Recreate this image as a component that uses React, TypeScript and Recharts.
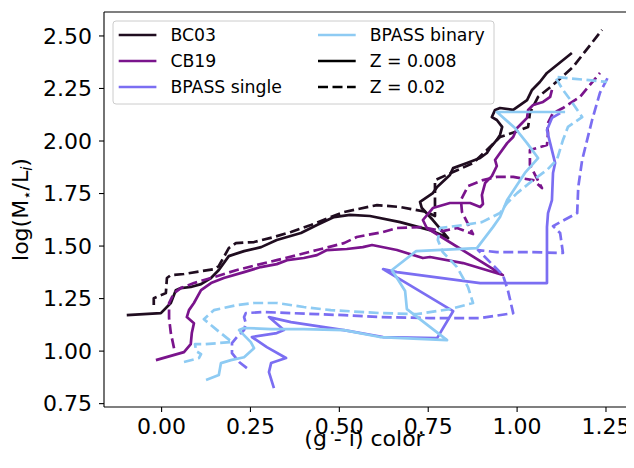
import React from "react";
import { LineChart, Line, XAxis, YAxis, ReferenceLine, Label } from "recharts";

// (g - i) color, log(M*/L_i) pairs
const BC03_Z008: [number, number][] = [
  [-0.098, 1.171], [-0.002, 1.181], [0.026, 1.229], [0.04, 1.29], [0.054, 1.3], [0.082, 1.305],
  [0.111, 1.319], [0.139, 1.348], [0.161, 1.386], [0.189, 1.452], [0.232, 1.476], [0.28, 1.495],
  [0.324, 1.529], [0.392, 1.562], [0.437, 1.6], [0.485, 1.638], [0.53, 1.648], [0.586, 1.643],
  [0.671, 1.614], [0.755, 1.576], [0.806, 1.538], [0.763, 1.624], [0.732, 1.681], [0.727, 1.71],
  [0.763, 1.752], [0.775, 1.781], [0.811, 1.838], [0.82, 1.871], [0.859, 1.895], [0.896, 1.919],
  [0.915, 1.943], [0.924, 1.967], [0.943, 2.005], [0.952, 2.029], [0.958, 2.067], [0.943, 2.1],
  [0.929, 2.114], [0.938, 2.148], [0.952, 2.157], [0.989, 2.148], [1.028, 2.195], [1.042, 2.243],
  [1.064, 2.281], [1.084, 2.324], [1.154, 2.419],
];
const BC03_Z02: [number, number][] = [
  [-0.022, 1.219], [-0.022, 1.252], [0.012, 1.276], [0.015, 1.348], [0.026, 1.362], [0.063, 1.367],
  [0.147, 1.39], [0.161, 1.405], [0.189, 1.49], [0.209, 1.514], [0.26, 1.519], [0.316, 1.543],
  [0.364, 1.567], [0.42, 1.6], [0.476, 1.638], [0.513, 1.662], [0.606, 1.695], [0.671, 1.686],
  [0.746, 1.662], [0.769, 1.643], [0.769, 1.814], [0.82, 1.852], [0.876, 1.895], [0.915, 1.957],
  [0.952, 2.019], [0.994, 2.043], [1.031, 2.067], [1.036, 2.133], [1.059, 2.21], [1.101, 2.267],
  [1.157, 2.352], [1.239, 2.529],
];
const CB19_Z008: [number, number][] = [
  [-0.016, 0.957], [0.063, 0.995], [0.082, 1.033], [0.085, 1.086], [0.091, 1.133], [0.071, 1.162],
  [0.077, 1.195], [0.091, 1.229], [0.111, 1.29], [0.139, 1.324], [0.175, 1.348], [0.232, 1.376],
  [0.279, 1.4], [0.324, 1.414], [0.353, 1.433], [0.4, 1.443], [0.437, 1.457], [0.465, 1.481],
  [0.521, 1.486], [0.566, 1.495], [0.592, 1.505], [0.662, 1.481], [0.735, 1.443], [0.755, 1.448],
  [0.848, 1.419], [0.96, 1.362], [0.746, 1.586], [0.735, 1.624], [0.763, 1.681], [0.811, 1.705],
  [0.868, 1.705], [0.896, 1.686], [0.904, 1.7], [0.901, 1.743], [0.91, 1.8], [0.929, 1.833],
  [0.943, 1.881], [0.938, 1.91], [0.952, 1.943], [0.972, 1.99], [0.989, 2.019], [1.0, 2.062],
  [1.014, 2.086], [1.028, 2.11], [1.031, 2.148], [1.045, 2.171], [1.073, 2.186], [1.093, 2.21],
  [1.098, 2.243],
];
const CB19_Z02: [number, number][] = [
  [0.035, 1.014], [0.026, 1.086], [0.021, 1.157], [0.021, 1.229], [0.035, 1.276], [0.054, 1.3],
  [0.091, 1.324], [0.147, 1.352], [0.212, 1.386], [0.268, 1.41], [0.324, 1.433], [0.381, 1.457],
  [0.437, 1.481], [0.513, 1.514], [0.549, 1.543], [0.623, 1.567], [0.662, 1.586], [0.735, 1.59],
  [0.791, 1.571], [0.831, 1.586], [0.876, 1.557], [0.845, 1.662], [0.842, 1.719], [0.862, 1.786],
  [0.904, 1.814], [0.943, 1.829], [0.989, 1.829], [1.045, 1.814], [1.07, 1.776], [1.036, 1.886],
  [1.036, 1.957], [1.084, 1.981], [1.087, 2.038], [1.084, 2.076], [1.101, 2.133], [1.129, 2.157],
  [1.177, 2.21], [1.233, 2.324],
];
const SINGLE_Z008: [number, number][] = [
  [0.316, 0.824], [0.302, 0.9], [0.308, 0.943], [0.35, 0.967], [0.296, 1.019], [0.254, 1.067],
  [0.324, 1.086], [0.344, 1.1], [0.302, 1.162], [0.364, 1.138], [0.457, 1.114], [0.513, 1.1],
  [0.623, 1.067], [0.775, 1.062], [0.82, 1.19], [0.623, 1.39], [0.662, 1.376], [0.896, 1.324],
  [1.084, 1.324], [1.084, 1.59], [1.087, 1.657], [1.098, 1.719], [1.101, 1.848], [1.107, 1.895],
  [1.093, 1.99], [1.084, 2.052], [1.098, 2.11], [1.121, 2.133],
];
const SINGLE_Z02: [number, number][] = [
  [0.24, 0.919], [0.218, 0.948], [0.198, 0.99], [0.198, 1.038], [0.212, 1.067], [0.232, 1.1],
  [0.237, 1.133], [0.232, 1.162], [0.237, 1.181], [0.288, 1.186], [0.364, 1.181], [0.437, 1.176],
  [0.513, 1.171], [0.614, 1.162], [0.755, 1.157], [0.896, 1.157], [0.989, 1.181], [0.974, 1.29],
  [0.96, 1.362], [0.89, 1.481], [0.943, 1.471], [1.036, 1.471], [1.129, 1.467], [1.121, 1.562],
  [1.101, 1.595], [1.169, 1.657], [1.172, 1.781], [1.183, 1.91], [1.211, 2.1], [1.233, 2.229],
  [1.256, 2.305],
];
const BINARY_Z008: [number, number][] = [
  [0.125, 0.862], [0.161, 0.886], [0.167, 0.943], [0.195, 0.957], [0.232, 0.971], [0.26, 1.014],
  [0.251, 1.043], [0.218, 1.1], [0.232, 1.11], [0.308, 1.105], [0.4, 1.105], [0.513, 1.1],
  [0.614, 1.067], [0.803, 1.052], [0.69, 1.2], [0.685, 1.286], [0.648, 1.386], [0.716, 1.476],
  [0.887, 1.49], [0.932, 1.59], [0.952, 1.638], [0.972, 1.719], [1.022, 1.848], [1.059, 1.919],
  [1.028, 1.99], [0.994, 2.062], [0.943, 2.138], [1.135, 2.138],
];
const BINARY_Z02: [number, number][] = [
  [0.063, 0.948], [0.105, 0.967], [0.111, 0.986], [0.097, 1.0], [0.094, 1.033], [0.119, 1.033],
  [0.198, 1.043], [0.156, 1.1], [0.119, 1.152], [0.147, 1.195], [0.212, 1.219], [0.26, 1.229],
  [0.324, 1.229], [0.4, 1.21], [0.476, 1.195], [0.614, 1.181], [0.718, 1.176], [0.811, 1.2],
  [0.876, 1.229], [0.862, 1.305], [0.831, 1.4], [0.791, 1.471], [0.777, 1.529], [0.783, 1.586],
  [0.848, 1.6], [0.901, 1.614], [0.952, 1.657], [0.972, 1.705], [1.0, 1.752], [1.045, 1.814],
  [1.084, 1.862], [1.112, 1.91], [1.129, 2.005], [1.143, 2.067], [1.183, 2.114], [1.154, 2.186],
  [1.129, 2.243], [1.107, 2.305], [1.253, 2.281],
];

const X_TICKS = [0, 0.25, 0.5, 0.75, 1.0, 1.25];
const Y_TICKS = [0.75, 1.0, 1.25, 1.5, 1.75, 2.0, 2.25, 2.5];
const X_DOMAIN: [number, number] = [-0.162, 1.326];
const Y_DOMAIN: [number, number] = [0.734, 2.614];

const MODEL_NAMES = ["BC03", "CB19", "BPASS single", "BPASS binary"];
const MODEL_COLORS = ["#200d20", "#7a148c", "#7b6ef2", "#8ecbf3"];
const Z_NAMES = ["Z = 0.008", "Z = 0.02"];

const FONT = "DejaVu Sans";
const DASH = "10 4.5";
const LW = 2.7;

const toData = (pts: [number, number][]) => pts.map(([x, y]) => ({ x, y }));

const SERIES = [
  { key: "bc03_008", pts: BC03_Z008, model: 0, dashed: false },
  { key: "bc03_02", pts: BC03_Z02, model: 0, dashed: true },
  { key: "cb19_008", pts: CB19_Z008, model: 1, dashed: false },
  { key: "cb19_02", pts: CB19_Z02, model: 1, dashed: true },
  { key: "single_008", pts: SINGLE_Z008, model: 2, dashed: false },
  { key: "single_02", pts: SINGLE_Z02, model: 2, dashed: true },
  { key: "binary_008", pts: BINARY_Z008, model: 3, dashed: false },
  { key: "binary_02", pts: BINARY_Z02, model: 3, dashed: true },
];

const LegendBox = () => {
  const rows = [14, 40, 66];
  const col1 = [
    { label: MODEL_NAMES[0], color: MODEL_COLORS[0], dash: undefined as string | undefined },
    { label: MODEL_NAMES[1], color: MODEL_COLORS[1], dash: undefined },
    { label: MODEL_NAMES[2], color: MODEL_COLORS[2], dash: undefined },
  ];
  const col2 = [
    { label: MODEL_NAMES[3], color: MODEL_COLORS[3], dash: undefined as string | undefined },
    { label: Z_NAMES[0], color: "#000", dash: undefined },
    { label: Z_NAMES[1], color: "#000", dash: DASH },
  ];
  return (
    <svg
      width={383}
      height={85}
      style={{ position: "absolute", left: 104.3, top: 12.3 }}
    >
      <rect x={1} y={1} width={381} height={83} rx={3} ry={3} fill="rgba(255,255,255,0.8)" stroke="#cccccc" strokeWidth={1} />
      {col1.map((c, i) => (
        <g key={c.label}>
          <line x1={6.7} x2={44.4} y1={rows[i] + 1} y2={rows[i] + 1} stroke={c.color} strokeWidth={LW} strokeDasharray={c.dash} />
          <text x={58.4} y={rows[i] + 7.3} fontSize={17.3} fontFamily={FONT} fill="#000">{c.label}</text>
        </g>
      ))}
      {col2.map((c, i) => (
        <g key={c.label}>
          <line x1={206} x2={243.7} y1={rows[i] + 1} y2={rows[i] + 1} stroke={c.color} strokeWidth={LW} strokeDasharray={c.dash} />
          <text x={257.7} y={rows[i] + 7.3} fontSize={17.3} fontFamily={FONT} fill="#000">{c.label}</text>
        </g>
      ))}
    </svg>
  );
};

const YLabel = () => (
  <text
    x={19.5}
    y={201.5}
    transform="rotate(-90, 19.5, 201.5)"
    textAnchor="middle"
    fontSize={22}
    fontFamily={FONT}
    fill="#000"
  >
    log(M<tspan fontSize={15} dy={4}>⋆</tspan><tspan dy={-4}>/L</tspan><tspan fontSize={15} fontStyle="italic" dy={4}>i</tspan><tspan dy={-4}>)</tspan>
  </text>
);

export default function App() {
  return (
    <div style={{ position: "relative", width: 626, height: 452 }}>
      <LineChart width={626} height={452} margin={{ top: 4, right: 1, bottom: 0, left: 0 }}>
        <XAxis
          type="number"
          dataKey="x"
          domain={X_DOMAIN}
          ticks={X_TICKS}
          allowDataOverflow
          height={53}
          tickSize={5}
          tickMargin={6.5}
          tickFormatter={(v: number) => v.toFixed(2)}
          tick={{ fill: "#000", fontSize: 22, fontFamily: FONT }}
          axisLine={{ stroke: "#000", strokeWidth: 1.1 }}
          tickLine={{ stroke: "#000", strokeWidth: 1.1 }}
        >
          <Label
            content={(props: any) => {
              const vb = props.viewBox || {};
              return (
                <text
                  x={(vb.x ?? 96) + (vb.width ?? 529) / 2 - 4}
                  y={438}
                  textAnchor="middle"
                  fontSize={22}
                  fontFamily={FONT}
                  fill="#000"
                >
                  (g - i) color
                </text>
              );
            }}
          />
        </XAxis>
        <YAxis
          type="number"
          domain={Y_DOMAIN}
          ticks={Y_TICKS}
          allowDataOverflow
          width={96}
          tickSize={5}
          tickMargin={7}
          tickFormatter={(v: number) => v.toFixed(2)}
          tick={{ fill: "#000", fontSize: 22, fontFamily: FONT }}
          axisLine={{ stroke: "#000", strokeWidth: 1.1 }}
          tickLine={{ stroke: "#000", strokeWidth: 1.1 }}
        >
          <Label content={() => <YLabel />} />
        </YAxis>
        {SERIES.map((s) => (
          <Line
            key={s.key}
            data={toData(s.pts)}
            dataKey="y"
            type="linear"
            stroke={MODEL_COLORS[s.model]}
            strokeWidth={LW}
            strokeDasharray={s.dashed ? DASH : undefined}
            strokeLinejoin="round"
            dot={false}
            activeDot={false}
            isAnimationActive={false}
          />
        ))}
        <ReferenceLine y={Y_DOMAIN[1]} stroke="#000" strokeWidth={1.1} ifOverflow="visible" />
      </LineChart>
      <LegendBox />
    </div>
  );
}
